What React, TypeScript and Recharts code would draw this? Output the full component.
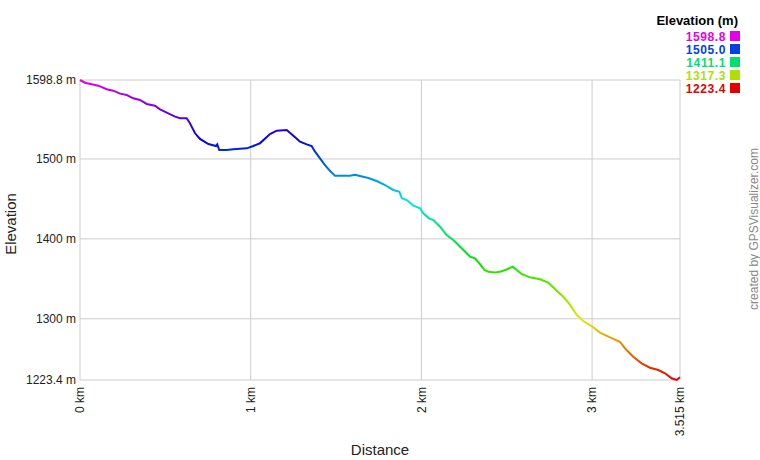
import { LineChart, Line, XAxis, YAxis, CartesianGrid } from "recharts";

// distance (km) along the track
const distanceKm = [
  0, 0.029, 0.069, 0.107, 0.156, 0.195, 0.234, 0.274, 0.312, 0.351, 0.391, 0.439,
  0.469, 0.508, 0.557, 0.586, 0.625, 0.644, 0.674, 0.703, 0.752, 0.797, 0.804,
  0.816, 0.859, 0.898, 0.977, 1.015, 1.054, 1.113, 1.152, 1.211, 1.26, 1.289,
  1.328, 1.357, 1.377, 1.406, 1.435, 1.465, 1.494, 1.582, 1.611, 1.64, 1.689,
  1.738, 1.787, 1.835, 1.871, 1.885, 1.914, 1.953, 1.992, 2.011, 2.045, 2.07,
  2.109, 2.148, 2.187, 2.236, 2.285, 2.314, 2.343, 2.369, 2.392, 2.431, 2.46,
  2.5, 2.535, 2.588, 2.636, 2.695, 2.743, 2.793, 2.831, 2.871, 2.91, 2.948,
  3.007, 3.046, 3.105, 3.163, 3.193, 3.241, 3.29, 3.339, 3.388, 3.427, 3.466,
  3.495, 3.515,
];

// elevation (m) at each distance
const elevationM = [
  1598.8, 1595.4, 1593.4, 1591.7, 1587.2, 1585.4, 1581.7, 1580.0, 1575.9, 1573.8,
  1568.8, 1566.6, 1562.1, 1557.9, 1552.9, 1550.9, 1550.9, 1544.6, 1532.1, 1525.0,
  1518.7, 1516.2, 1518.3, 1511.2, 1511.2, 1512.1, 1513.3, 1516.2, 1519.6, 1531.2,
  1535.4, 1536.3, 1527.1, 1521.6, 1518.3, 1516.2, 1509.1, 1500.8, 1492.4, 1484.9,
  1479.0, 1479.0, 1480.3, 1478.7, 1476.2, 1472.4, 1467.4, 1461.2, 1459.0, 1450.8,
  1448.6, 1441.5, 1438.3, 1432.0, 1425.7, 1423.6, 1415.2, 1404.8, 1398.6, 1388.2,
  1377.7, 1375.7, 1368.5, 1361.1, 1358.9, 1357.9, 1358.9, 1361.7, 1365.2, 1355.8,
  1351.9, 1349.4, 1345.2, 1335.1, 1327.6, 1317.3, 1304.8, 1297.2, 1289.4, 1282.6,
  1276.8, 1271.3, 1263.0, 1252.6, 1244.3, 1238.8, 1235.9, 1231.8, 1225.5, 1223.4,
  1226.8,
];

const xTicks = [0, 1, 2, 3, 3.515];
const yTicks = [1223.4, 1300, 1400, 1500, 1598.8];

const legendValues = ["1598.8", "1505.0", "1411.1", "1317.3", "1223.4"];
const legendColors = ["#e600e6", "#0040e6", "#00e070", "#b0e000", "#e60000"];

// hue ramp from top (magenta) to bottom (red)
const rampColors = ["#e600e6", "#0000e6", "#00e6e6", "#00e600", "#e6e600", "#e60000"];

const data = distanceKm.map((d, i) => ({ d, e: elevationM[i] }));

const FONT = "Arial, 'Liberation Sans', sans-serif";

function XTick(props: any) {
  const { x, y, payload } = props;
  const label = payload.value === 3.515 ? "3.515 km" : `${payload.value} km`;
  return (
    <text
      x={x}
      y={y + 5}
      transform={`rotate(-90 ${x} ${y + 5})`}
      textAnchor="end"
      dy="0.35em"
      fontSize={12}
      fontFamily={FONT}
      fill="#222"
    >
      {label}
    </text>
  );
}

export default function App() {
  return (
    <div style={{ position: "absolute", left: 0, top: 0, width: 760, height: 460, background: "#fff", fontFamily: FONT }}>
      <LineChart
        width={760}
        height={460}
        data={data}
        margin={{ top: 80, right: 80, left: 0, bottom: 0 }}
      >
        <defs>
          <linearGradient id="elevGrad" x1="0" y1="0" x2="0" y2="1">
            {rampColors.map((c, i) => (
              <stop key={c} offset={i / (rampColors.length - 1)} stopColor={c} />
            ))}
          </linearGradient>
        </defs>
        <CartesianGrid stroke="#cccccc" strokeWidth={1} />
        <XAxis
          dataKey="d"
          type="number"
          domain={[0, 3.515]}
          ticks={xTicks}
          height={80}
          axisLine={false}
          tickLine={false}
          tickSize={0}
          interval={0}
          tick={<XTick />}
        />
        <YAxis
          dataKey="e"
          type="number"
          domain={[1223.4, 1598.8]}
          ticks={yTicks}
          width={80}
          axisLine={false}
          tickLine={false}
          tickSize={0}
          tickMargin={4}
          interval={0}
          tick={{ fontSize: 12, fill: "#222", fontFamily: FONT }}
          tickFormatter={(v) => `${v} m`}
        />
        <Line
          type="linear"
          dataKey="e"
          stroke="url(#elevGrad)"
          strokeWidth={2}
          dot={false}
          isAnimationActive={false}
        />
      </LineChart>
      <svg
        width={760}
        height={460}
        style={{ position: "absolute", left: 0, top: 0, pointerEvents: "none" }}
        fontFamily={FONT}
      >
        <text x={738} y={25} textAnchor="end" fontSize={13} fontWeight="bold" fill="#000">
          Elevation (m)
        </text>
        {legendValues.map((v, i) => (
          <g key={v}>
            <text
              x={726}
              y={41 + i * 13}
              textAnchor="end"
              fontSize={12}
              letterSpacing={0.6}
              fontWeight="bold"
              fill={legendColors[i]}
            >
              {v}
            </text>
            <rect x={730} y={31 + i * 13} width={10} height={10} fill={legendColors[i]} />
          </g>
        ))}
        <text x={380} y={455} textAnchor="middle" fontSize={15} fill="#222">
          Distance
        </text>
        <text
          x={16}
          y={224}
          textAnchor="middle"
          fontSize={15}
          fill="#222"
          transform="rotate(-90 16 224)"
        >
          Elevation
        </text>
        <text
          x={757.5}
          y={229}
          textAnchor="middle"
          fontSize={12}
          fill="#888"
          transform="rotate(-90 757.5 229)"
        >
          created by GPSVisualizer.com
        </text>
      </svg>
    </div>
  );
}
